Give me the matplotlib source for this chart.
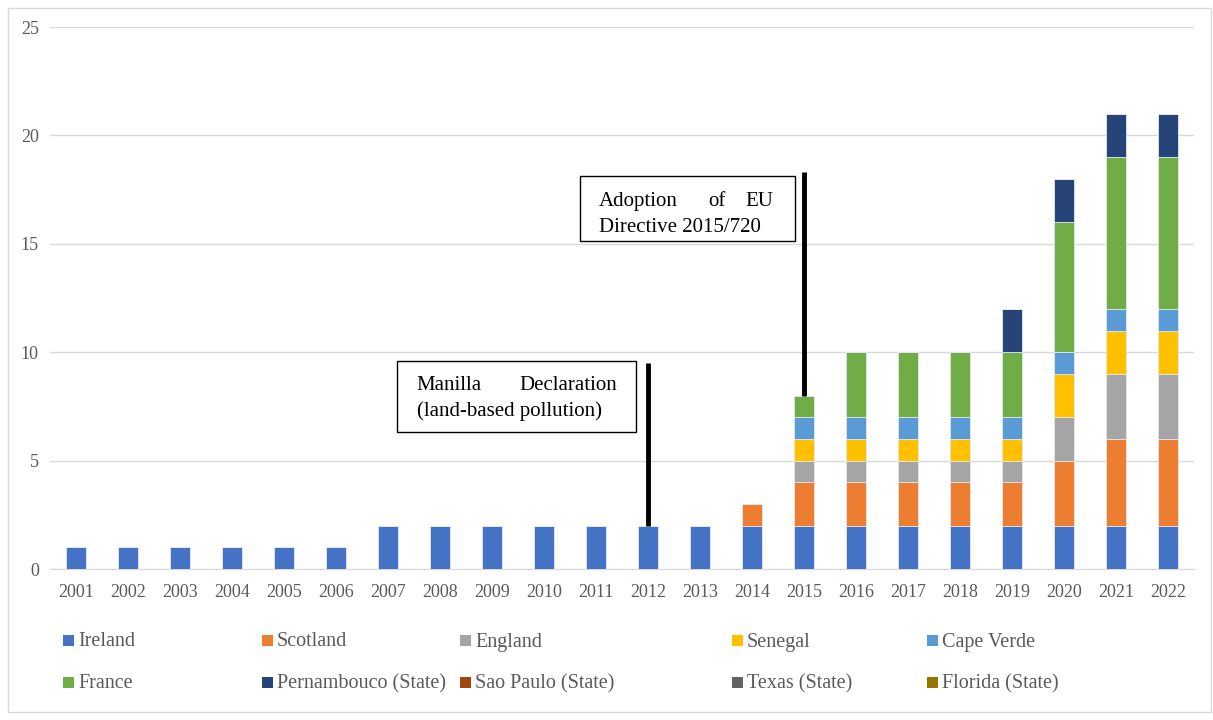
import matplotlib.pyplot as plt
from matplotlib.patches import Rectangle
import numpy as np

years = [str(y) for y in range(2001, 2023)]

ireland     = [1, 1, 1, 1, 1, 1, 2, 2, 2, 2, 2, 2, 2, 2, 2, 2, 2, 2, 2, 2, 2, 2]
scotland    = [0, 0, 0, 0, 0, 0, 0, 0, 0, 0, 0, 0, 0, 1, 2, 2, 2, 2, 2, 3, 4, 4]
england     = [0, 0, 0, 0, 0, 0, 0, 0, 0, 0, 0, 0, 0, 0, 1, 1, 1, 1, 1, 2, 3, 3]
senegal     = [0, 0, 0, 0, 0, 0, 0, 0, 0, 0, 0, 0, 0, 0, 1, 1, 1, 1, 1, 2, 2, 2]
cape_verde  = [0, 0, 0, 0, 0, 0, 0, 0, 0, 0, 0, 0, 0, 0, 1, 1, 1, 1, 1, 1, 1, 1]
france      = [0, 0, 0, 0, 0, 0, 0, 0, 0, 0, 0, 0, 0, 0, 1, 3, 3, 3, 3, 6, 7, 7]
pernambouco = [0, 0, 0, 0, 0, 0, 0, 0, 0, 0, 0, 0, 0, 0, 0, 0, 0, 0, 2, 2, 2, 2]
sao_paulo   = [0] * 22
texas       = [0] * 22
florida     = [0] * 22

names = ['Ireland', 'Scotland', 'England', 'Senegal', 'Cape Verde',
         'France', 'Pernambouco (State)', 'Sao Paulo (State)', 'Texas (State)', 'Florida (State)']
series = [ireland, scotland, england, senegal, cape_verde,
          france, pernambouco, sao_paulo, texas, florida]
colors = ['#4472C4', '#ED7D31', '#A5A5A5', '#FFC000', '#5B9BD5',
          '#70AD47', '#264478', '#9E480E', '#636363', '#997300']

plt.rcParams['font.family'] = 'Liberation Serif'
txt_gray = '#595959'

fig = plt.figure(figsize=(12.13, 7.2), dpi=100)
ax = fig.add_axes([50/1213, 1 - 569/720, 1144/1213, 542/720])

x = np.arange(len(years))
bottom = np.zeros(len(years))
for vals, col in zip(series, colors):
    v = np.array(vals, dtype=float)
    ax.bar(x, v, width=0.4, bottom=bottom, color=col, edgecolor='#e3e8ef', linewidth=0.6, zorder=3)
    bottom += v

ax.set_xlim(-0.5, len(years) - 0.5)
ax.set_ylim(0, 25)
ax.set_yticks([0, 5, 10, 15, 20, 25])
ax.set_xticks(x)
ax.set_xticklabels(years)
ax.tick_params(axis='both', length=0, labelsize=13, colors=txt_gray)
ax.tick_params(axis='x', pad=11)
ax.tick_params(axis='y', pad=8)
ax.yaxis.grid(True, color='#d9d9d9', linewidth=1, zorder=0)
for s in ['top', 'right', 'left']:
    ax.spines[s].set_visible(False)
ax.spines['bottom'].set_color('#d9d9d9')

# annotation: Manilla Declaration
ax.plot([11, 11], [2, 9.5], color='black', linewidth=3.5, zorder=4, solid_capstyle='butt')
ax.add_patch(Rectangle((6.17, 6.32), 4.6, 3.27, fill=False, edgecolor='black', linewidth=1, zorder=5))
ax.text(6.55, 8.45, 'Manilla', fontsize=15, ha='left', va='center', zorder=6)
ax.text(10.4, 8.45, 'Declaration', fontsize=15, ha='right', va='center', zorder=6)
ax.text(6.55, 7.27, '(land-based pollution)', fontsize=15, ha='left', va='center', zorder=6)

# annotation: EU Directive
ax.plot([14, 14], [8, 18.3], color='black', linewidth=3.5, zorder=4, solid_capstyle='butt')
ax.add_patch(Rectangle((9.69, 15.13), 4.14, 3.0, fill=False, edgecolor='black', linewidth=1, zorder=5))
ax.text(10.05, 16.94, 'Adoption', fontsize=15, ha='left', va='center', zorder=6)
ax.text(12.33, 16.94, 'of', fontsize=15, ha='center', va='center', zorder=6)
ax.text(13.42, 16.94, 'EU', fontsize=15, ha='right', va='center', zorder=6)
ax.text(10.05, 15.76, 'Directive 2015/720', fontsize=15, ha='left', va='center', zorder=6)

# legend, two rows of five
col_x = [63, 262, 460, 732, 927]
row_y = [640, 682]
for i, (name, col) in enumerate(zip(names, colors)):
    px = col_x[i % 5]
    py = row_y[i // 5]
    fig.patches.append(Rectangle((px / 1213, 1 - (py + 5.5) / 720), 11 / 1213, 11 / 720,
                                 transform=fig.transFigure, facecolor=col, edgecolor='none'))
    fig.text((px + 15) / 1213, 1 - (py + 2) / 720, name, fontsize=14.5, color=txt_gray,
             ha='left', va='center')

# outer chart border
fig.patches.append(Rectangle((8 / 1213, 8 / 720), 1203 / 1213, 704 / 720, transform=fig.transFigure,
                             fill=False, edgecolor='#d9d9d9', linewidth=1))

fig.savefig('out.png', dpi=100)
plt.close(fig)
